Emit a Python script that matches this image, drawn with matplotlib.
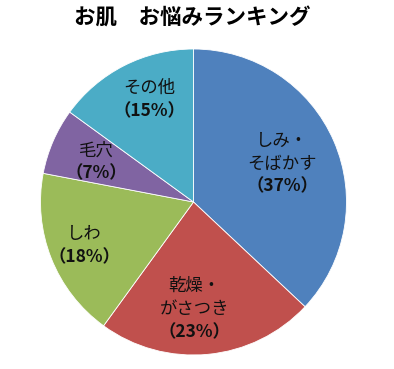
import matplotlib
matplotlib.use("Agg")
import matplotlib.pyplot as plt
import numpy as np

plt.rcParams['font.family'] = ['Noto Sans CJK JP', 'DejaVu Sans']

title = "お肌　お悩みランキング"
categories = ["しみ・\nそばかす", "乾燥・\nがさつき", "しわ", "毛穴", "その他"]
values = [37, 23, 18, 7, 15]
colors = ["#4F81BD", "#C0504D", "#9BBB59", "#8064A2", "#4BACC6"]
# label placement: (angle offset from wedge middle in degrees, radial distance)
label_pos = [(0.0, 0.63), (-5.0, 0.70), (0.0, 0.77), (1.0, 0.69), (-3.5, 0.73)]

W, H = 394, 369
fig = plt.figure(figsize=(W / 100, H / 100), dpi=100)
cx, cy, r = 193.5, 202.0, 153.0
ax = fig.add_axes([(cx - r) / W, (H - cy - r) / H, 2 * r / W, 2 * r / H])
wedges, _ = ax.pie(values, colors=colors, startangle=90, counterclock=False,
                   radius=1.0, wedgeprops=dict(edgecolor="white", linewidth=0.6))
ax.set_xlim(-1, 1)
ax.set_ylim(-1, 1)
ax.axis("off")

line_gap = 16.5  # points
fs = 12.5
for w, name, v, (da, dist) in zip(wedges, categories, values, label_pos):
    mid = np.deg2rad((w.theta1 + w.theta2) / 2 + da)
    x, y = dist * np.cos(mid), dist * np.sin(mid)
    lines = name.split("\n") + [f"（{v}%）"]
    n = len(lines)
    for i, ln in enumerate(lines):
        off = ((n - 1) / 2 - i) * line_gap
        bold = (i == n - 1)
        ax.annotate(ln, (x, y), xytext=(0, off), textcoords="offset points",
                    ha="center", va="center", fontsize=fs,
                    fontweight="bold" if bold else "normal", color="#111111")

fig.text(192 / W, 1 - 18 / H, title, ha="center", va="center",
         fontsize=15.5, fontweight="bold", color="black")

fig.savefig("out.png", dpi=100)
